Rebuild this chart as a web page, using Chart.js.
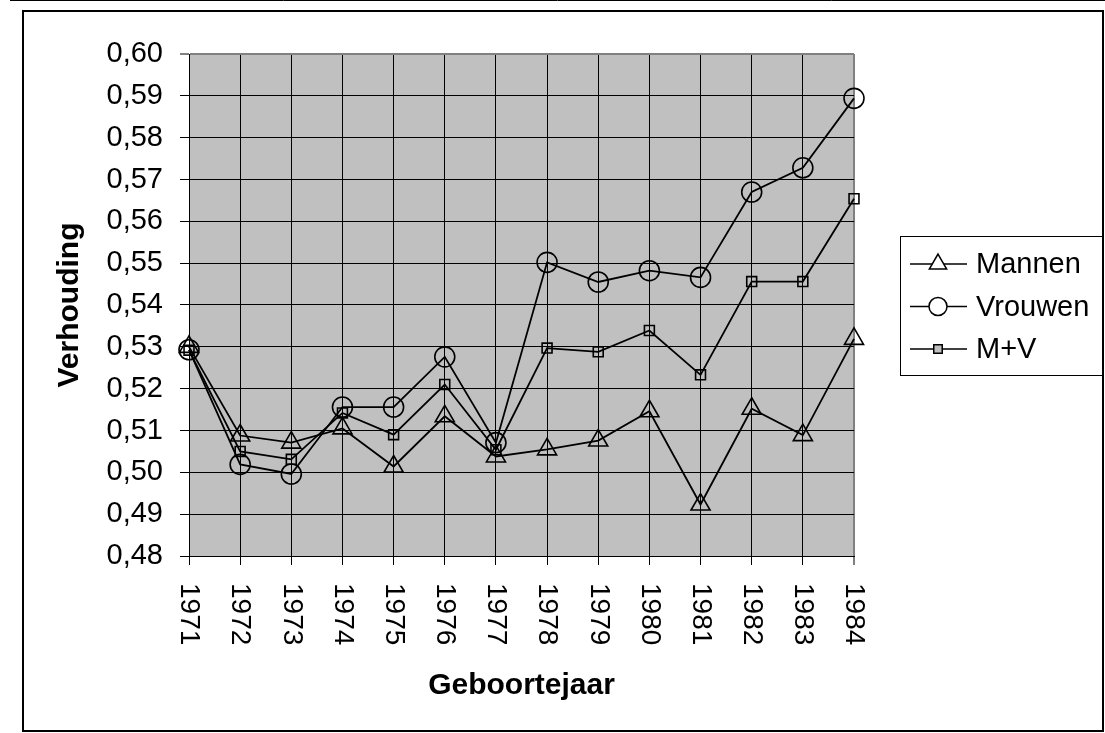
<!DOCTYPE html>
<html>
<head>
<meta charset="utf-8">
<script src="https://cdn.jsdelivr.net/npm/chart.js@4.4.1/dist/chart.umd.min.js"></script>
<style>
  html, body { margin: 0; padding: 0; background: #fff; }
  #wrap { width: 1105px; height: 733px; position: relative; }
</style>
</head>
<body>
<div id="wrap"><canvas id="verhoudingChart"></canvas></div>
<script>
// gegevens
const jaren = ['1971', '1972', '1973', '1974', '1975', '1976', '1977', '1978', '1979', '1980', '1981', '1982', '1983', '1984'];
const mannen  = [0.5300, 0.5088, 0.5071, 0.5105, 0.5014, 0.5134, 0.5038, 0.5055, 0.5076, 0.5146, 0.4923, 0.5152, 0.5089, 0.5319];
const vrouwen = [0.5293, 0.5019, 0.4996, 0.5156, 0.5156, 0.5276, 0.5071, 0.5502, 0.5455, 0.5482, 0.5466, 0.5670, 0.5728, 0.5894];
const mplusv  = [0.5292, 0.5050, 0.5031, 0.5142, 0.5090, 0.5210, 0.5054, 0.5297, 0.5288, 0.5339, 0.5233, 0.5456, 0.5456, 0.5654];
const yMin = 0.48, yMax = 0.60, yStap = 0.01;

const FONT = '"Liberation Sans", Arial, sans-serif';
const series = [
    { label: 'Mannen',  data: mannen,  style: 'triangle', r: 11 },
    { label: 'Vrouwen', data: vrouwen, style: 'circle',   r: 10 },
    { label: 'M+V',     data: mplusv,  style: 'rect',     r: 7 }
];

function drawMarker(ctx, style, x, y, r) {
    ctx.beginPath();
    if (style === 'circle') {
        ctx.arc(x, y, r, 0, Math.PI * 2);
    } else if (style === 'triangle') {
        for (let k = 0; k < 3; k++) {
            let a = k * 2 * Math.PI / 3;
            let px = x + Math.sin(a) * r, py = y - Math.cos(a) * r;
            if (k === 0) ctx.moveTo(px, py); else ctx.lineTo(px, py);
        }
        ctx.closePath();
    } else {
        let s = r * Math.SQRT1_2;
        ctx.rect(x - s, y - s, 2 * s, 2 * s);
    }
}

const decor = {
    id: 'decor',
    beforeDraw(chart) {
        const ctx = chart.ctx, a = chart.chartArea;
        ctx.save();
        ctx.fillStyle = '#fff';
        ctx.fillRect(0, 0, chart.width, chart.height);
        ctx.fillStyle = '#c0c0c0';
        ctx.fillRect(a.left, a.top, a.right - a.left, a.bottom - a.top);
        ctx.restore();
    },
    afterDraw(chart) {
        const ctx = chart.ctx, a = chart.chartArea;
        const xs = chart.scales.x;
        ctx.save();
        // kader
        ctx.strokeStyle = '#000';
        ctx.lineWidth = 1;
        ctx.beginPath();
        ctx.moveTo(10, 0.5);
        ctx.lineTo(chart.width, 0.5);
        ctx.stroke();
        ctx.lineWidth = 2;
        ctx.strokeRect(23, 11, 1080, 720);

        // jaartallen, van boven naar beneden
        ctx.fillStyle = '#000';
        ctx.font = '28px ' + FONT;
        ctx.textAlign = 'left';
        ctx.textBaseline = 'middle';
        jaren.forEach((j, i) => {
            ctx.save();
            ctx.translate(xs.getPixelForValue(i), a.bottom + 27);
            ctx.rotate(Math.PI / 2);
            ctx.fillText(j, 0, 0);
            ctx.restore();
        });

        // astitels
        ctx.font = 'bold 30px ' + FONT;
        ctx.textAlign = 'center';
        ctx.fillText('Geboortejaar', (a.left + a.right) / 2, 686);
        ctx.save();
        ctx.translate(70, (a.top + a.bottom) / 2);
        ctx.rotate(-Math.PI / 2);
        ctx.fillText('Verhouding', 0, 0);
        ctx.restore();

        // legenda
        ctx.fillStyle = '#fff';
        ctx.fillRect(900, 236, 202, 139);
        ctx.strokeStyle = '#000';
        ctx.lineWidth = 1;
        ctx.strokeRect(900.5, 236.5, 202, 139);
        ctx.font = '29px ' + FONT;
        ctx.textAlign = 'left';
        series.forEach((s, i) => {
            let y = 264 + i * 42.5;
            ctx.lineWidth = 1.5;
            ctx.strokeStyle = '#000';
            ctx.beginPath();
            ctx.moveTo(910, y);
            ctx.lineTo(967, y);
            ctx.stroke();
            let r = s.style === 'rect' ? 6 : s.r - 1;
            drawMarker(ctx, s.style, 938, y, r);
            ctx.fillStyle = s.style === 'rect' ? '#c0c0c0' : '#fff';
            ctx.fill();
            ctx.stroke();
            ctx.fillStyle = '#000';
            ctx.fillText(s.label, 976, y + 1);
        });
        ctx.restore();
    }
};

new Chart(document.getElementById('verhoudingChart'), {
    type: 'line',
    data: {
        labels: jaren,
        datasets: series.map(s => ({
            label: s.label,
            data: s.data,
            borderColor: '#000',
            borderWidth: 1.8,
            backgroundColor: 'transparent',
            pointStyle: s.style,
            pointRadius: s.r,
            pointBorderColor: '#000',
            pointBorderWidth: 1.6,
            pointBackgroundColor: 'transparent',
            tension: 0,
            clip: false
        }))
    },
    options: {
        responsive: true,
        maintainAspectRatio: false,
        animation: false,
        devicePixelRatio: 1,
        layout: { autoPadding: false, padding: { top: 54, right: 251, left: 0, bottom: 0 } },
        plugins: { legend: { display: false }, tooltip: { enabled: false } },
        scales: {
            x: {
                type: 'category',
                offset: false,
                afterFit(scale) { scale.height = 177; },
                grid: {
                    color: c => (c.index === jaren.length - 1 ? '#808080' : '#000'),
                    lineWidth: c => (c.index === jaren.length - 1 ? 2 : 1),
                    drawTicks: true,
                    tickLength: 9
                },
                border: { color: '#000', width: 1 },
                ticks: { display: false, autoSkip: false }
            },
            y: {
                min: yMin,
                max: yMax,
                afterFit(scale) { scale.width = 189; },
                grid: {
                    color: c => (Math.abs(c.tick.value - yMax) < 1e-6 ? '#808080' : '#000'),
                    lineWidth: c => (Math.abs(c.tick.value - yMax) < 1e-6 ? 2 : 1),
                    drawTicks: true,
                    tickLength: 9
                },
                border: { color: '#000', width: 1 },
                ticks: {
                    stepSize: yStap,
                    padding: 17,
                    color: '#000',
                    font: { family: FONT, size: 29 },
                    callback: v => v.toFixed(2).replace('.', ',')
                }
            }
        }
    },
    plugins: [decor]
});
</script>
</body>
</html>
